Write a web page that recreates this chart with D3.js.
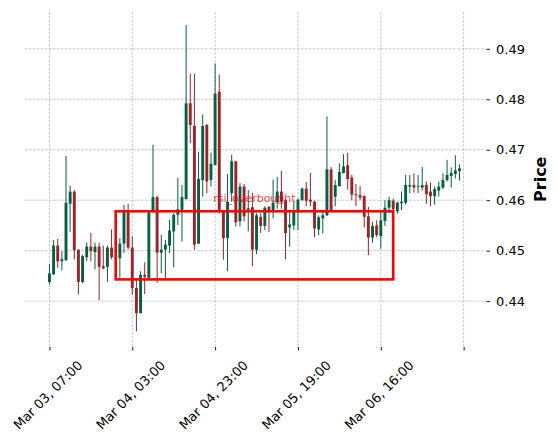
<!DOCTYPE html>
<html lang="en">
<head>
<meta charset="utf-8">
<script src="https://d3js.org/d3.v7.min.js"></script>
<style>
  html, body { margin: 0; padding: 0; background: #fff; }
  svg { display: block; font-family: "DejaVu Sans", sans-serif; }
</style>
</head>
<body>
<div id="chart"></div>
<script>
// hourly candles, index 0 = Mar 03 07:00
var opens = [
  0.4438, 0.4453, 0.4510, 0.4479, 0.4481, 0.4593, 0.4617, 0.4502, 0.4438, 0.4487,
  0.4508, 0.4497, 0.4508, 0.4469, 0.4468, 0.4506, 0.4487, 0.4485, 0.4514, 0.4576,
  0.4506, 0.4426, 0.4376, 0.4452, 0.4446, 0.4576, 0.4606, 0.4496, 0.4502, 0.4510,
  0.4538, 0.4571, 0.4581, 0.4602, 0.4792, 0.4747, 0.4514, 0.4640, 0.4749, 0.4640,
  0.4670, 0.4815, 0.4578, 0.4525, 0.4614, 0.4677, 0.4558, 0.4627, 0.4581, 0.4586,
  0.4502, 0.4567, 0.4549, 0.4587, 0.4580, 0.4595, 0.4617, 0.4600, 0.4546, 0.4550,
  0.4579, 0.4600, 0.4623, 0.4601, 0.4597, 0.4542, 0.4564, 0.4570, 0.4661, 0.4607,
  0.4628, 0.4654, 0.4669, 0.4645, 0.4612, 0.4610, 0.4608, 0.4568, 0.4526, 0.4550,
  0.4529, 0.4559, 0.4585, 0.4599, 0.4578, 0.4594, 0.4595, 0.4627, 0.4630, 0.4627,
  0.4625, 0.4630, 0.4617, 0.4608, 0.4619, 0.4625, 0.4640, 0.4648, 0.4652, 0.4658
];
var highs = [
  0.4473, 0.4521, 0.4523, 0.4499, 0.4688, 0.4629, 0.4620, 0.4502, 0.4492, 0.4516,
  0.4535, 0.4516, 0.4516, 0.4510, 0.4510, 0.4542, 0.4545, 0.4525, 0.4591, 0.4593,
  0.4528, 0.4446, 0.4459, 0.4477, 0.4581, 0.4710, 0.4609, 0.4531, 0.4521, 0.4561,
  0.4574, 0.4644, 0.4630, 0.4947, 0.4851, 0.4851, 0.4696, 0.4770, 0.4751, 0.4694,
  0.4871, 0.4849, 0.4580, 0.4652, 0.4690, 0.4678, 0.4634, 0.4632, 0.4620, 0.4614,
  0.4574, 0.4574, 0.4588, 0.4588, 0.4641, 0.4646, 0.4658, 0.4603, 0.4577, 0.4597,
  0.4603, 0.4625, 0.4636, 0.4654, 0.4599, 0.4570, 0.4580, 0.4766, 0.4666, 0.4640,
  0.4673, 0.4691, 0.4694, 0.4650, 0.4632, 0.4628, 0.4610, 0.4587, 0.4557, 0.4560,
  0.4580, 0.4600, 0.4607, 0.4603, 0.4597, 0.4617, 0.4650, 0.4650, 0.4653, 0.4650,
  0.4666, 0.4637, 0.4635, 0.4627, 0.4637, 0.4653, 0.4680, 0.4665, 0.4689, 0.4671
];
var lows = [
  0.4433, 0.4452, 0.4466, 0.4461, 0.4480, 0.4537, 0.4483, 0.4413, 0.4435, 0.4479,
  0.4479, 0.4463, 0.4402, 0.4463, 0.4438, 0.4483, 0.4480, 0.4446, 0.4495, 0.4502,
  0.4413, 0.4340, 0.4376, 0.4414, 0.4446, 0.4576, 0.4436, 0.4455, 0.4446, 0.4495,
  0.4467, 0.4551, 0.4518, 0.4602, 0.4713, 0.4502, 0.4513, 0.4607, 0.4614, 0.4627,
  0.4669, 0.4574, 0.4482, 0.4459, 0.4597, 0.4548, 0.4548, 0.4558, 0.4538, 0.4469,
  0.4493, 0.4535, 0.4541, 0.4537, 0.4564, 0.4583, 0.4583, 0.4483, 0.4508, 0.4541,
  0.4541, 0.4599, 0.4588, 0.4588, 0.4527, 0.4531, 0.4534, 0.4569, 0.4577, 0.4588,
  0.4627, 0.4653, 0.4621, 0.4600, 0.4588, 0.4600, 0.4546, 0.4491, 0.4516, 0.4527,
  0.4504, 0.4549, 0.4574, 0.4578, 0.4573, 0.4580, 0.4591, 0.4614, 0.4615, 0.4614,
  0.4619, 0.4593, 0.4588, 0.4591, 0.4607, 0.4622, 0.4637, 0.4625, 0.4643, 0.4639
];
var closes = [
  0.4455, 0.4510, 0.4479, 0.4483, 0.4595, 0.4617, 0.4501, 0.4438, 0.4489, 0.4508,
  0.4499, 0.4508, 0.4468, 0.4465, 0.4506, 0.4487, 0.4485, 0.4514, 0.4576, 0.4506,
  0.4426, 0.4376, 0.4452, 0.4448, 0.4576, 0.4606, 0.4496, 0.4502, 0.4512, 0.4540,
  0.4571, 0.4582, 0.4606, 0.4792, 0.4749, 0.4512, 0.4642, 0.4747, 0.4637, 0.4672,
  0.4811, 0.4578, 0.4525, 0.4597, 0.4677, 0.4556, 0.4627, 0.4568, 0.4584, 0.4502,
  0.4570, 0.4549, 0.4585, 0.4577, 0.4595, 0.4617, 0.4597, 0.4535, 0.4552, 0.4579,
  0.4601, 0.4623, 0.4599, 0.4597, 0.4544, 0.4566, 0.4570, 0.4661, 0.4579, 0.4630,
  0.4656, 0.4667, 0.4642, 0.4611, 0.4610, 0.4605, 0.4567, 0.4526, 0.4549, 0.4531,
  0.4560, 0.4585, 0.4600, 0.4582, 0.4595, 0.4597, 0.4630, 0.4630, 0.4625, 0.4628,
  0.4630, 0.4612, 0.4608, 0.4622, 0.4627, 0.4640, 0.4650, 0.4654, 0.4659, 0.4663
];

var xTickIdx = [0, 20, 40, 60, 80, 100];
var xTickLabels = ["Mar 03, 07:00", "Mar 04, 03:00", "Mar 04, 23:00", "Mar 05, 19:00", "Mar 06, 16:00", ""];
var yTicks = [0.44, 0.45, 0.46, 0.47, 0.48, 0.49];

// rsi overbought box: index range and price range
var boxIdx = [16, 83];
var boxPrice = [0.4443, 0.4578];
var boxLabel = "rsi_overbought";

var W = 558, H = 444;
// plot area edges (don't use "top" - it's window.top)
var pLeft = 25, pRight = 486, pTop = 12, pBottom = 346.5;

var upColor = "#006340", downColor = "#A02128";

var svg = d3.select("#chart").append("svg")
    .attr("width", W)
    .attr("height", H);

var x = d3.scaleLinear().domain([-5.9, 105.4]).range([pLeft, pRight]);
var y = d3.scaleLinear().domain([0.4310, 0.4973]).range([pBottom, pTop]);

// grid
var grid = svg.append("g")
    .attr("stroke", "#bdbdbd")
    .attr("stroke-width", 0.8)
    .attr("stroke-dasharray", "2.8,1.2");

grid.selectAll(".gx").data(xTickIdx).enter().append("line")
    .attr("x1", function(d) { return x(d); })
    .attr("x2", function(d) { return x(d); })
    .attr("y1", pTop).attr("y2", pBottom);

grid.selectAll(".gy").data(yTicks).enter().append("line")
    .attr("x1", pLeft).attr("x2", pRight)
    .attr("y1", function(d) { return y(d); })
    .attr("y2", function(d) { return y(d); });

// candles
var candles = d3.range(opens.length).map(function(i) {
    return { i: i, o: opens[i], h: highs[i], l: lows[i], c: closes[i] };
});

var bodyW = 2.9;

var cg = svg.append("g").selectAll("g")
    .data(candles)
    .enter().append("g")
    .attr("fill", function(d) { return d.c >= d.o ? upColor : downColor; })
    .attr("stroke", function(d) { return d.c >= d.o ? upColor : downColor; });

cg.append("line")
    .attr("x1", function(d) { return x(d.i); })
    .attr("x2", function(d) { return x(d.i); })
    .attr("y1", function(d) { return y(d.h); })
    .attr("y2", function(d) { return y(d.l); })
    .attr("stroke-width", 1);

cg.append("rect")
    .attr("x", function(d) { return x(d.i) - bodyW / 2; })
    .attr("width", bodyW)
    .attr("y", function(d) { return y(Math.max(d.o, d.c)); })
    .attr("height", function(d) { return Math.max(0.8, Math.abs(y(d.o) - y(d.c))); })
    .attr("stroke", "none");

// box + label
svg.append("rect")
    .attr("x", x(boxIdx[0]))
    .attr("y", y(boxPrice[1]))
    .attr("width", x(boxIdx[1]) - x(boxIdx[0]))
    .attr("height", y(boxPrice[0]) - y(boxPrice[1]))
    .attr("fill", "none")
    .attr("stroke", "#ff0000")
    .attr("stroke-width", 2.6);

svg.append("text")
    .attr("x", x((boxIdx[0] + boxIdx[1]) / 2))
    .attr("y", y(boxPrice[1]) - 9.5)
    .attr("text-anchor", "middle")
    .attr("fill", "#ff0000")
    .attr("fill-opacity", 0.75)
    .style("font-size", "11px")
    .text(boxLabel);

// right price axis
var yAxis = svg.append("g")
    .attr("transform", "translate(" + (pRight + 0.5) + ",0)")
    .call(d3.axisRight(y).tickValues(yTicks).tickFormat(d3.format(".2f")).tickSize(3.5).tickPadding(6));
yAxis.select(".domain").remove();
yAxis.selectAll("text")
    .attr("fill", "#000")
    .style("font-size", "13px")
    .style("font-family", "DejaVu Sans, sans-serif");
yAxis.selectAll("line").attr("stroke", "#000").attr("stroke-width", 0.9);

svg.append("text")
    .attr("transform", "translate(546," + ((pTop + pBottom) / 2) + ") rotate(-90)")
    .attr("text-anchor", "middle")
    .style("font-size", "16px")
    .style("font-weight", "bold")
    .text("Price");

// bottom time axis
var xAxis = svg.append("g")
    .attr("transform", "translate(0," + (pBottom + 0.5) + ")")
    .call(d3.axisBottom(x).tickValues(xTickIdx).tickFormat("").tickSize(3.5));
xAxis.select(".domain").remove();
xAxis.selectAll("line").attr("stroke", "#000").attr("stroke-width", 0.9);

svg.append("g").selectAll("text")
    .data(xTickIdx)
    .enter().append("text")
    .attr("transform", function(d) { return "translate(" + (x(d) - 1.5) + ",395) rotate(-45)"; })
    .attr("text-anchor", "middle")
    .attr("dominant-baseline", "central")
    .style("font-size", "13px")
    .text(function(d, i) { return xTickLabels[i]; });
</script>
</body>
</html>
